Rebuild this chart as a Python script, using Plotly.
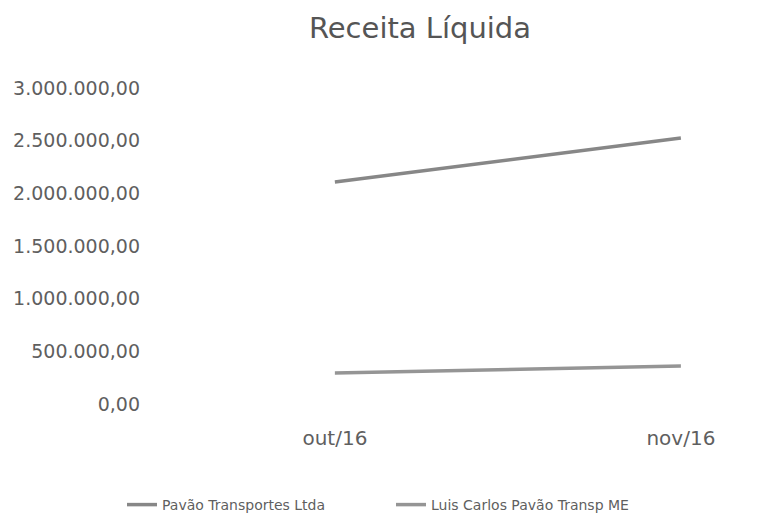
import plotly.graph_objects as go

categories = ["out/16", "nov/16"]
pavao_transportes = [2108000, 2525000]
luis_carlos = [294000, 361000]
series_names = ["Pavão Transportes Ltda", "Luis Carlos Pavão Transp ME"]
y_ticks = [0, 500000, 1000000, 1500000, 2000000, 2500000, 3000000]

FONT = "DejaVu Sans"
TXT = "#5f5f5f"

fig = go.Figure()
fig.add_trace(go.Scatter(x=[0, 1], y=pavao_transportes, mode="lines", name=series_names[0],
                         line=dict(color="#878787", width=3.5)))
fig.add_trace(go.Scatter(x=[0, 1], y=luis_carlos, mode="lines", name=series_names[1],
                         line=dict(color="#959595", width=3.5)))

fig.update_layout(
    width=776, height=518,
    margin=dict(l=139, r=0, t=80, b=122, autoexpand=False),
    paper_bgcolor="white", plot_bgcolor="white",
    separators=",.",
    font=dict(family=FONT, color=TXT),
    title=dict(text="Receita Líquida", font=dict(size=29, color="#555555", family=FONT),
               xref="container", x=412 / 776, xanchor="center",
               yref="container", y=1 - 20 / 518, yanchor="middle"),
    showlegend=True,
    legend=dict(orientation="h", xref="container", x=114 / 776, xanchor="left",
                yref="container", y=1 - 497 / 518, yanchor="middle",
                font=dict(size=14, color=TXT, family=FONT),
                entrywidth=224, entrywidthmode="pixels", itemwidth=30),
)
fig.update_xaxes(range=[-0.543, 1.298], tickmode="array", tickvals=[0, 1], ticktext=categories,
                 showgrid=False, zeroline=False, showline=False, automargin=False,
                 tickfont=dict(size=20, color=TXT), ticklabelstandoff=20)
fig.update_yaxes(range=[0, 3000000], tickmode="array", tickvals=y_ticks,
                 tickformat=",.2f", showgrid=False, zeroline=False, showline=False, automargin=False,
                 tickfont=dict(size=19, color=TXT), ticklabelstandoff=6)

fig.write_html("out.html")
